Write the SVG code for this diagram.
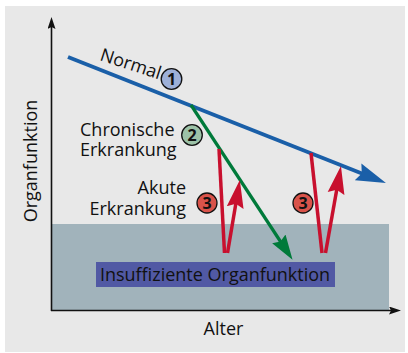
<svg xmlns="http://www.w3.org/2000/svg" width="408" height="353" viewBox="0 0 408 353">
<style>
text{font-family:"Open Sans","Noto Sans","Liberation Sans",sans-serif;fill:#111;font-size:18px}
.num{font-weight:bold;font-size:16px;text-anchor:middle}
.circ{stroke:#111;stroke-width:1.3}
.axis{stroke:#111;stroke-width:1.6;fill:none}
</style>
<defs>
<marker id="axh" markerUnits="userSpaceOnUse" markerWidth="12" markerHeight="8" viewBox="0 0 12 8" refX="4" refY="4" orient="auto"><path d="M0,0 L12,4 L0,8 L2,4 z" fill="#111"/></marker>
<marker id="bh" markerUnits="userSpaceOnUse" markerWidth="32" markerHeight="20" viewBox="0 0 32 20" refX="15" refY="10" orient="auto"><path d="M0,1 L30,10 L0,19 L4,10 z" fill="#1a5fa8"/></marker>
<marker id="gh" markerUnits="userSpaceOnUse" markerWidth="27" markerHeight="18" viewBox="0 0 27 18" refX="12" refY="9" orient="auto"><path d="M0,1 L25,9 L0,17 L3,9 z" fill="#007a3a"/></marker>
<marker id="rh" markerUnits="userSpaceOnUse" markerWidth="30" markerHeight="19" viewBox="0 0 30 19" refX="14" refY="9.5" orient="auto"><path d="M0,1 L28,9.5 L0,18 L4,9.5 z" fill="#c8102e"/></marker>
</defs>
<rect id="panel" x="5" y="6" width="400" height="346" fill="#e8e8e8"/>
<rect id="insuff-zone" x="52" y="224" width="337" height="86" fill="#a1b3bb"/>
<g id="axes">
<line class="axis" x1="51.5" y1="311" x2="51.5" y2="25" marker-end="url(#axh)"/>
<line class="axis" x1="51" y1="310.5" x2="393" y2="310.5" marker-end="url(#axh)"/>
<text transform="translate(37,161) rotate(-90)" text-anchor="middle" font-size="17.5">Organfunktion</text>
<text x="223.5" y="335" text-anchor="middle">Alter</text>
</g>
<g id="connectors">
<line x1="68" y1="57" x2="372" y2="177.5" stroke="#1a5fa8" stroke-width="4" marker-end="url(#bh)"/>
<line x1="191" y1="105" x2="285.4" y2="249" stroke="#007a3a" stroke-width="3.2" marker-end="url(#gh)"/>
<line x1="219" y1="149" x2="224.5" y2="253" stroke="#c8102e" stroke-width="3.5"/>
<line x1="227.5" y1="253" x2="237.5" y2="193.8" stroke="#c8102e" stroke-width="3.5" marker-end="url(#rh)"/>
<line x1="311" y1="153" x2="322" y2="253" stroke="#c8102e" stroke-width="3.5"/>
<line x1="325.5" y1="253" x2="338.5" y2="179.8" stroke="#c8102e" stroke-width="3.5" marker-end="url(#rh)"/>
</g>
<g id="normal">
<text transform="translate(99,60) rotate(18)">Normal</text>
<circle class="circ" cx="171.5" cy="79" r="10.3" fill="#9db0d8"/>
<text class="num" x="171.5" y="84.8">1</text>
</g>
<g id="chronisch">
<text x="80" y="135.5">Chronische</text>
<text x="80" y="156">Erkrankung</text>
<circle class="circ" cx="192" cy="135" r="10.3" fill="#9cc2a7"/>
<text class="num" x="192" y="140.8">2</text>
</g>
<g id="akut">
<text x="186" y="193.5" text-anchor="end">Akute</text>
<text x="186" y="215" text-anchor="end">Erkrankung</text>
<circle class="circ" cx="207" cy="203" r="10" fill="#d9534a"/>
<text class="num" x="207" y="208.8">3</text>
<circle class="circ" cx="303" cy="203" r="10" fill="#d9534a"/>
<text class="num" x="303" y="208.8">3</text>
</g>
<g id="insuffizient">
<rect x="96" y="262" width="239" height="25" fill="#5159a4"/>
<text x="215" y="280.5" text-anchor="middle">Insuffiziente Organfunktion</text>
</g>
</svg>
